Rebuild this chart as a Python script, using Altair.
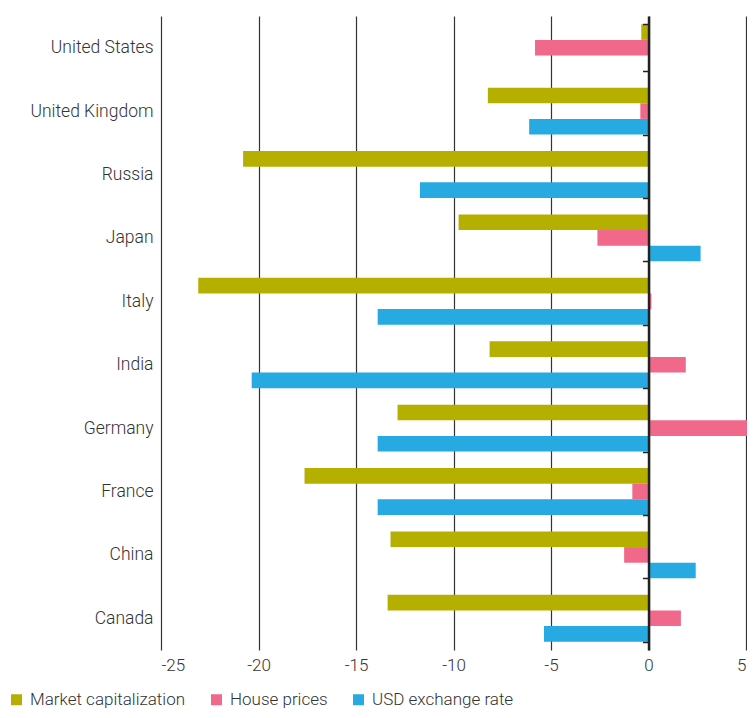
import altair as alt
import pandas as pd

countries = ["United States", "United Kingdom", "Russia", "Japan", "Italy",
             "India", "Germany", "France", "China", "Canada"]
series = ["Market capitalization", "House prices", "USD exchange rate"]
colors = ["#B5B000", "#F0688A", "#26AAE1"]

market_cap = [-0.37, -8.24, -20.79, -9.74, -23.09, -8.15, -12.87, -17.64, -13.23, -13.38]
house_prices = [-5.82, -0.42, None, -2.62, 0.15, 1.91, 5.2, -0.83, -1.25, 1.66]
usd_rate = [None, -6.12, -11.72, 2.67, -13.89, -20.35, -13.89, -13.89, 2.42, -5.36]

x_ticks = [-25, -20, -15, -10, -5, 0, 5]
x_domain = [-25, 5.05]

rows = []
for vals, s in zip([market_cap, house_prices, usd_rate], series):
    for c, v in zip(countries, vals):
        if v is not None:
            rows.append({"country": c, "series": s, "value": v})
df = pd.DataFrame(rows)

W = 586
H = 634
PAD_L = 153
FONT = "Roboto"
TEXT = "#333333"
zero_pos = W * (0 - x_domain[0]) / (x_domain[1] - x_domain[0])
tick_size = 6
# category labels end 8px left of the plot's left edge
label_padding = zero_pos + 8 - tick_size

chart = alt.Chart(df).mark_bar(clip=True).encode(
    x=alt.X("value:Q", title=None,
            scale=alt.Scale(domain=x_domain, nice=False, zero=False),
            axis=alt.Axis(values=x_ticks, grid=True, gridColor="#333333", gridWidth=1.2,
                          domain=False, ticks=False, labelPadding=7,
                          labelFontSize=17, labelFont=FONT, labelFontWeight=300,
                          labelColor=TEXT, labelExpr="'' + datum.value", zindex=0)),
    y=alt.Y("country:N", title=None, sort=countries,
            scale=alt.Scale(paddingInner=0.26, paddingOuter=0.13),
            axis=alt.Axis(offset=-zero_pos, domain=True, domainColor="#222222",
                          domainWidth=2.5, ticks=True, tickBand="extent",
                          tickSize=tick_size, tickColor="#222222", tickWidth=1.5,
                          labelPadding=label_padding, labelFontSize=17.5,
                          labelFont=FONT, labelFontWeight=300, labelColor=TEXT,
                          grid=False, zindex=1)),
    yOffset=alt.YOffset("series:N", sort=series, scale=alt.Scale(domain=series)),
    color=alt.Color("series:N", sort=series, title=None,
                    scale=alt.Scale(domain=series, range=colors),
                    legend=alt.Legend(orient="none", legendX=-153, legendY=675,
                                      direction="horizontal", symbolType="square",
                                      symbolSize=121, symbolStrokeWidth=0,
                                      labelFontSize=17, labelFont=FONT,
                                      labelFontWeight=300, labelColor=TEXT,
                                      labelOffset=5, columnPadding=22)),
).properties(
    width=W, height=H,
    autosize=alt.AutoSizeParams(type="none"),
    padding={"left": PAD_L, "top": 8, "right": 0, "bottom": 60},
).configure_view(stroke=None)

chart.save("out.html", embed_options={"renderer": "svg", "actions": False})
